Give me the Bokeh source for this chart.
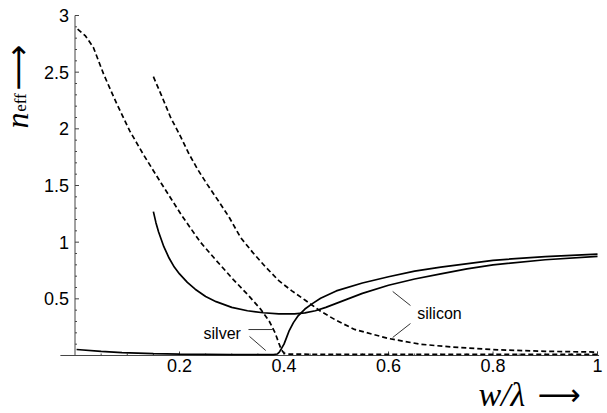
import math
from bokeh.plotting import figure
from bokeh.models import Range1d
from bokeh.core.properties import value
from bokeh.embed import file_html
from bokeh.resources import INLINE

# ---- data ----
silver_dashed_x = [0.005, 0.02, 0.035, 0.055, 0.08, 0.105, 0.13, 0.165, 0.205, 0.24, 0.27, 0.303,
                   0.33, 0.355, 0.372, 0.383, 0.39, 0.395, 0.40, 0.41, 0.5, 0.7, 1.0]
silver_dashed_y = [2.88, 2.82, 2.72, 2.48, 2.22, 1.98, 1.78, 1.52, 1.23, 1.0, 0.84, 0.67,
                   0.54, 0.41, 0.30, 0.20, 0.11, 0.05, 0.02, 0.012, 0.01, 0.01, 0.01]

silver_solid_x = [0.003, 0.05, 0.09, 0.15, 0.2, 0.3, 0.37, 0.38, 0.387, 0.391, 0.395, 0.40, 0.405,
                  0.41, 0.418, 0.427, 0.44, 0.455, 0.47, 0.5, 0.55, 0.6, 0.65, 0.7, 0.8, 0.9, 1.0]
silver_solid_y = [0.053, 0.036, 0.025, 0.016, 0.012, 0.008, 0.007, 0.008, 0.013, 0.03, 0.06, 0.10, 0.16,
                  0.22, 0.29, 0.35, 0.41, 0.46, 0.505, 0.57, 0.64, 0.695, 0.745, 0.78, 0.84, 0.873, 0.895]

silicon_solid_x = [0.150, 0.155, 0.16, 0.17, 0.18, 0.19, 0.2, 0.215, 0.23, 0.25, 0.27, 0.3, 0.33, 0.36,
                   0.39, 0.42, 0.44, 0.46, 0.48, 0.5, 0.52, 0.55, 0.6, 0.65, 0.7, 0.75, 0.8, 0.9, 1.0]
silicon_solid_y = [1.27, 1.17, 1.09, 0.96, 0.86, 0.78, 0.72, 0.645, 0.585, 0.52, 0.475, 0.425, 0.395, 0.377,
                   0.368, 0.368, 0.376, 0.395, 0.425, 0.46, 0.495, 0.548, 0.62, 0.675, 0.72, 0.765, 0.80, 0.845, 0.874]

silicon_dashed_x = [0.150, 0.165, 0.183, 0.2, 0.218, 0.235, 0.253, 0.275, 0.295, 0.317, 0.34, 0.365,
                    0.39, 0.415, 0.44, 0.47, 0.5, 0.535, 0.6, 0.66, 0.72, 0.81, 0.9, 1.0]
silicon_dashed_y = [2.46, 2.30, 2.10, 1.95, 1.78, 1.64, 1.51, 1.36, 1.22, 1.04, 0.91, 0.78,
                    0.66, 0.57, 0.49, 0.39, 0.31, 0.23, 0.15, 0.10, 0.075, 0.05, 0.037, 0.03]

x_major_ticks = [0.2, 0.4, 0.6, 0.8, 1.0]
x_tick_labels = ["0.2", "0.4", "0.6", "0.8", "1"]
x_minor_ticks = [0.05, 0.1, 0.15, 0.25, 0.3, 0.35, 0.45, 0.5, 0.55, 0.65, 0.7, 0.75, 0.85, 0.9, 0.95]
y_major_ticks = [0.5, 1.0, 1.5, 2.0, 2.5, 3.0]
y_tick_labels = ["0.5", "1", "1.5", "2", "2.5", "3"]
y_minor_ticks = [0.1, 0.2, 0.3, 0.4, 0.6, 0.7, 0.8, 0.9, 1.1, 1.2, 1.3, 1.4, 1.6, 1.7, 1.8, 1.9,
                 2.1, 2.2, 2.3, 2.4, 2.6, 2.7, 2.8, 2.9]

# axis extents
x_axis_span = [-0.028, 1.003]
y_axis_span = [0.0, 3.0]

# annotation leader lines (data coordinates)
silver_leaders = [([0.332, 0.378], [0.229, 0.229]), ([0.334, 0.365], [0.168, 0.044])]
silicon_leaders = [([0.642, 0.608], [0.441, 0.565]), ([0.642, 0.608], [0.282, 0.159])]

W, H = 607, 413
p = figure(width=W, height=H, output_backend="svg", toolbar_location=None,
           x_axis_type=None, y_axis_type=None,
           x_range=Range1d(-0.1426, 1.0191), y_range=Range1d(-0.5118, 3.1324),
           min_border=0)
p.outline_line_color = None
p.background_fill_color = "white"
p.border_fill_color = "white"

AX = "#444444"
# axes
p.line(x_axis_span, [0, 0], line_color=AX, line_width=1)
p.line([0, 0], y_axis_span, line_color=AX, line_width=1)
# ticks (pointing inward)
p.ray(x=x_major_ticks, y=0, length=4, length_units="screen", angle=math.pi / 2, line_color=AX, line_width=1)
p.ray(x=x_minor_ticks, y=0, length=2, length_units="screen", angle=math.pi / 2, line_color=AX, line_width=1)
p.ray(x=0, y=y_major_ticks, length=4, length_units="screen", angle=0, line_color=AX, line_width=1)
p.ray(x=0, y=y_minor_ticks, length=2, length_units="screen", angle=0, line_color=AX, line_width=1)
# tick labels
p.text(x=x_major_ticks, y=0, text=x_tick_labels, text_font=value("Liberation Sans"),
       text_font_size=value("18px"), text_align="center", text_baseline="top", y_offset=4, text_color="black")
p.text(x=0, y=y_major_ticks, text=y_tick_labels, text_font=value("Liberation Sans"),
       text_font_size=value("18px"), text_align="right", text_baseline="middle", x_offset=-6, text_color="black")

# curves
lw = 1.7
p.line(silver_dashed_x, silver_dashed_y, line_color="black", line_width=lw, line_dash="5 3")
p.line(silicon_dashed_x, silicon_dashed_y, line_color="black", line_width=lw, line_dash="5 3")
p.line(silver_solid_x, silver_solid_y, line_color="black", line_width=lw)
p.line(silicon_solid_x, silicon_solid_y, line_color="black", line_width=lw)

for xs, ys in silver_leaders + silicon_leaders:
    p.line(xs, ys, line_color="black", line_width=0.8)

p.text(x=[0.246], y=[0.198], text=["silver"], text_font=value("Liberation Sans"), text_font_size=value("16px"),
       text_align="left", text_baseline="middle", text_color="black")
p.text(x=[0.655], y=[0.374], text=["silicon"], text_font=value("Liberation Sans"), text_font_size=value("16px"),
       text_align="left", text_baseline="middle", text_color="black")

# x axis label: w/λ ⟶
p.text(x=[0.772], y=[-0.343], text=["w/λ"], text_font=value("Liberation Serif"), text_font_style="italic",
       text_font_size=value("34px"), text_align="left", text_baseline="middle", text_color="black")
p.text(x=[0.885], y=[-0.344], text=["⟶"], text_font=value("DejaVu Sans"),
       text_font_size=value("30px"), text_align="left", text_baseline="middle", text_color="black")

# y axis label: n_eff ⟶ (rotated, reading upward)
p.text(x=[-0.1110], y=[2.003], text=["n"], text_font=value("Liberation Serif"), text_font_style="italic",
       text_font_size=value("32px"), text_align="left", text_baseline="middle", angle=math.pi / 2,
       text_color="black")
p.text(x=[-0.1039], y=[2.150], text=["eff"], text_font=value("Liberation Serif"),
       text_font_size=value("17px"), text_align="left", text_baseline="middle", angle=math.pi / 2,
       text_color="black")
p.text(x=[-0.1100], y=[2.338], text=["⟶"], text_font=value("DejaVu Sans"),
       text_font_size=value("32px"), text_align="left", text_baseline="middle", angle=math.pi / 2,
       text_color="black")

open("out.html", "w").write(file_html(p, INLINE))
